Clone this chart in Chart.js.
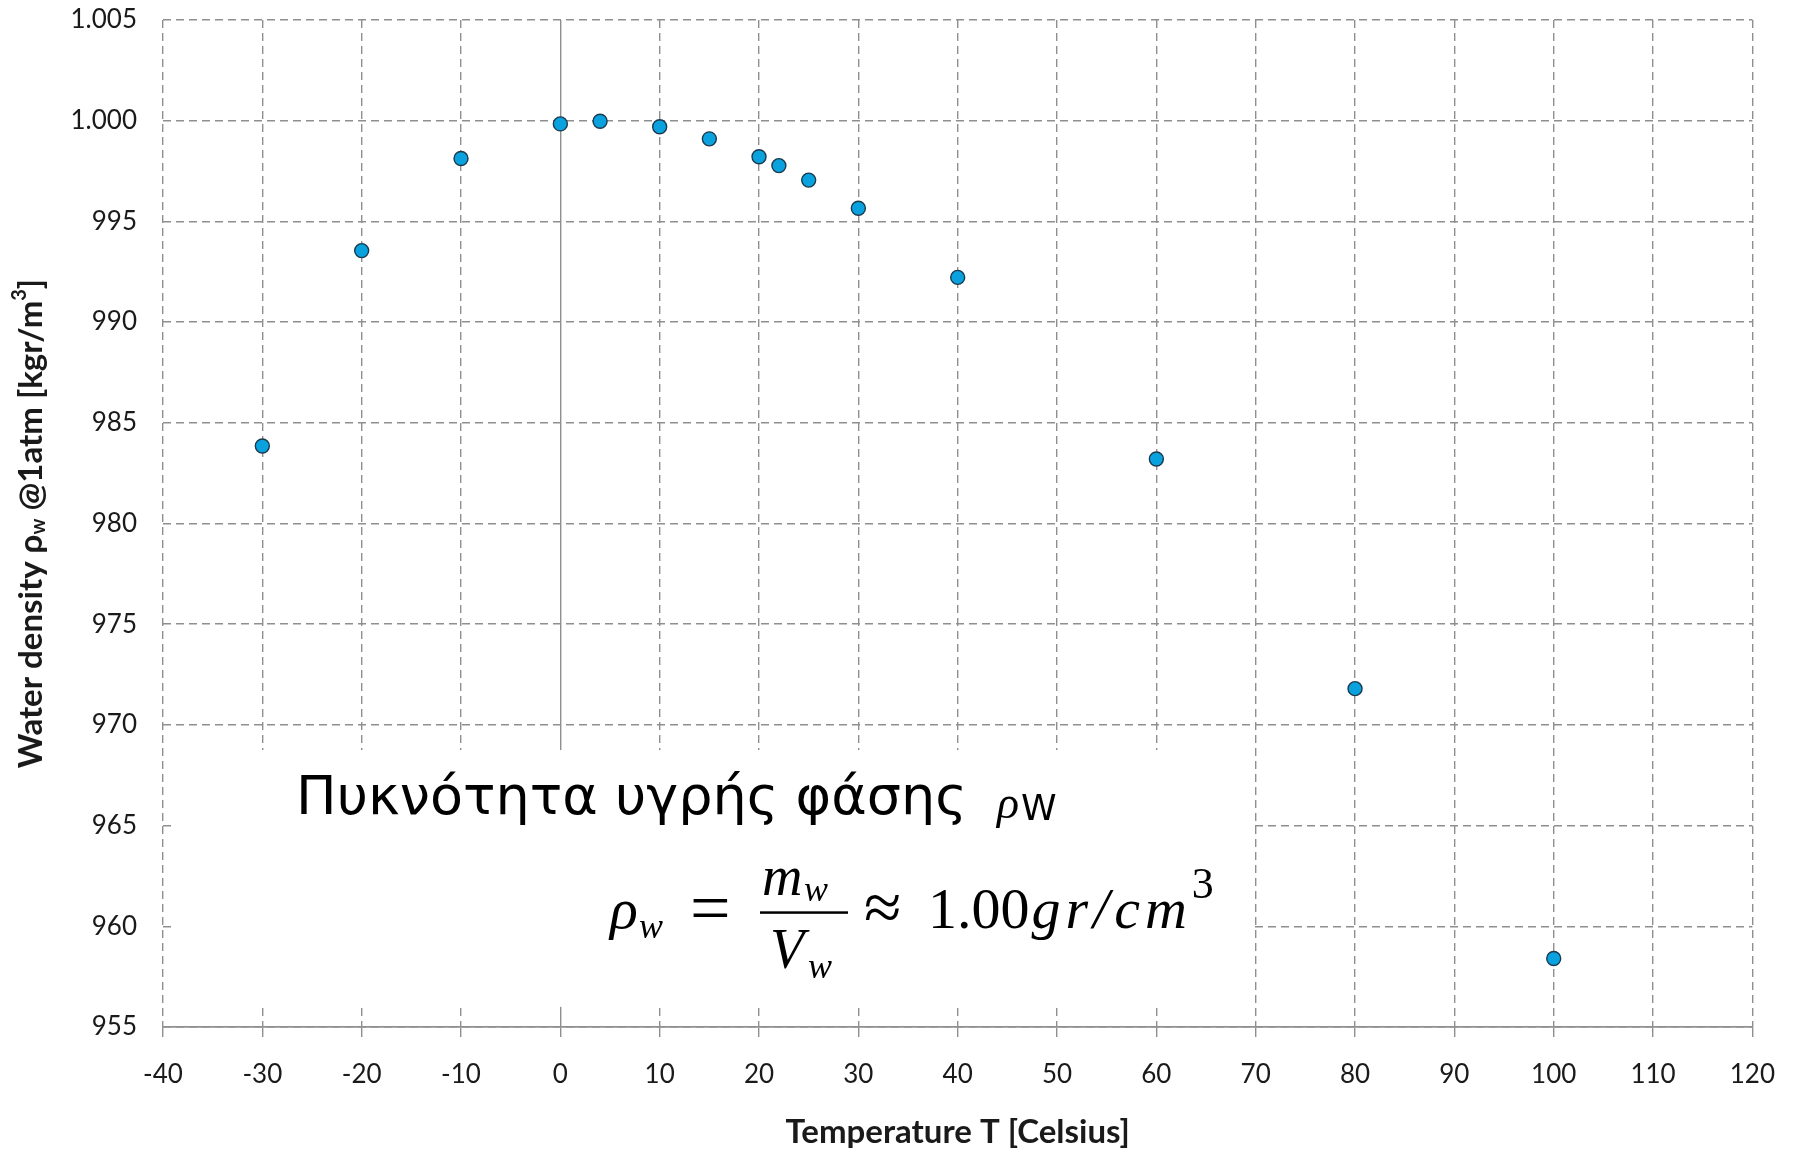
<!DOCTYPE html>
<html>
<head>
<meta charset="utf-8">
<script src="https://cdn.jsdelivr.net/npm/chart.js@4.4.1/dist/chart.umd.min.js"></script>
<style>
  html, body { margin: 0; padding: 0; background: #fff; }
  canvas { display: block; }
</style>
</head>
<body>
<canvas id="densityChart" width="1797" height="1152"></canvas>
<script>
// water density at 1 atm
const temperatures = [-30, -20, -10, 0, 4, 10, 15, 20, 22, 25, 30, 40, 60, 80, 100];
const densities = [983.85, 993.55, 998.12, 999.84, 999.97, 999.70, 999.10, 998.21, 997.77, 997.05, 995.65, 992.22, 983.20, 971.80, 958.40];

const xTitle = 'Temperature T [Celsius]';
const yTitleParts = [
    { text: 'Water density ρ' },
    { text: 'w', sub: true },
    { text: ' @1atm [kgr/m' },
    { text: '3', sup: true },
    { text: ']' }
];
const noteTitle = 'Πυκνότητα υγρής φάσης';

const gridGray = '#8f8f8f';
const labelFont = 'Lato';
const mathFont = '"Liberation Serif"';

// white note box with the greek caption and the formula
const notePlugin = {
    id: 'note',
    beforeDatasetsDraw(chart) {
        const { ctx, scales: { x, y } } = chart;
        const l = x.getPixelForValue(-38.7), r = x.getPixelForValue(69.6);
        const t = y.getPixelForValue(968.75), b = y.getPixelForValue(956.0);
        ctx.save();
        ctx.fillStyle = '#fff';
        ctx.fillRect(l, t, r - l, b - t);

        ctx.fillStyle = '#000';
        ctx.textBaseline = 'alphabetic';
        ctx.textAlign = 'left';

        // caption
        let cx = x.getPixelForValue(-26.6);
        const cy = y.getPixelForValue(965.6);
        ctx.font = '54px "DejaVu Sans"';
        ctx.fillText(noteTitle, cx, cy);
        cx += ctx.measureText(noteTitle).width + 30;
        ctx.font = 'italic 46px ' + mathFont;
        ctx.fillText('ρ', cx, cy + 4);
        cx += ctx.measureText('ρ').width + 2;
        ctx.font = '36px "DejaVu Sans"';
        ctx.fillText('W', cx, cy + 6);

        // formula
        const fx = x.getPixelForValue(5.0);
        const fy = y.getPixelForValue(959.9);
        ctx.font = 'italic 58px ' + mathFont;
        ctx.fillText('ρ', fx, fy);
        ctx.font = 'italic 36px ' + mathFont;
        ctx.fillText('w', fx + 29, fy + 10);
        ctx.font = '72px ' + mathFont;
        ctx.fillText('=', fx + 80, fy + 4);
        // fraction
        const barL = fx + 150, barR = fx + 238;
        ctx.fillRect(barL, fy - 17, barR - barL, 2.5);
        ctx.font = 'italic 56px ' + mathFont;
        ctx.fillText('m', barL + 2, fy - 33);
        ctx.font = 'italic 36px ' + mathFont;
        ctx.fillText('w', barL + 44, fy - 27);
        ctx.font = 'italic 56px ' + mathFont;
        ctx.fillText('V', barL + 10, fy + 40);
        ctx.font = 'italic 36px ' + mathFont;
        ctx.fillText('w', barL + 48, fy + 50);
        ctx.font = '68px ' + mathFont;
        ctx.fillText('≈', fx + 254, fy + 2);
        let ux = fx + 318;
        ctx.font = '58px ' + mathFont;
        ctx.fillText('1.00', ux, fy);
        ux += ctx.measureText('1.00').width + 2;
        ctx.font = 'italic 58px ' + mathFont;
        ctx.letterSpacing = '5px';
        ctx.fillText('gr/cm', ux, fy);
        ux += ctx.measureText('gr/cm').width;
        ctx.letterSpacing = '0px';
        ctx.font = '44px ' + mathFont;
        ctx.fillText('3', ux, fy - 30);
        ctx.restore();
    },
    afterDraw(chart) {
        // y title with sub/superscripts
        const { ctx, chartArea } = chart;
        ctx.save();
        ctx.translate(31, (chartArea.top + chartArea.bottom) / 2);
        ctx.rotate(-Math.PI / 2);
        ctx.fillStyle = '#1a1a1a';
        ctx.textBaseline = 'middle';
        const fontFor = p => (p.sub || p.sup) ? `bold 20px ${labelFont}` : `bold 33px ${labelFont}`;
        let total = 0;
        yTitleParts.forEach(p => { ctx.font = fontFor(p); total += ctx.measureText(p.text).width; });
        let px = -total / 2;
        yTitleParts.forEach(p => {
            ctx.font = fontFor(p);
            const dy = p.sub ? 8 : (p.sup ? -11 : 0);
            ctx.fillText(p.text, px, dy);
            px += ctx.measureText(p.text).width;
        });
        ctx.restore();
    }
};

const dashFor = c => (c.tick && c.tick.value === 0) ? [] : [8, 5];

new Chart(document.getElementById('densityChart'), {
    type: 'scatter',
    data: {
        datasets: [{
            data: temperatures.map((t, i) => ({ x: t, y: densities[i] })),
            backgroundColor: '#0aa2de',
            borderColor: '#1b3a4c',
            borderWidth: 1.4,
            pointRadius: 7,
            pointHoverRadius: 7
        }]
    },
    options: {
        responsive: false,
        devicePixelRatio: 1,
        animation: false,
        layout: { padding: { top: 20, right: 44, left: 0, bottom: 0 } },
        plugins: { legend: { display: false }, tooltip: { enabled: false } },
        scales: {
            x: {
                type: 'linear',
                min: -40,
                max: 120,
                afterFit(scale) { scale.height = 125; },
                ticks: { stepSize: 10, padding: 22, color: '#1a1a1a', font: { family: labelFont, size: 26 } },
                grid: { color: gridGray, lineWidth: 1.4, tickLength: 10, tickColor: gridGray, tickWidth: 1.4 },
                border: { display: true, color: gridGray, width: 1.8, dash: dashFor },
                title: {
                    display: true,
                    text: xTitle,
                    color: '#1a1a1a',
                    font: { family: labelFont, size: 33, weight: 'bold' },
                    padding: { top: 0, bottom: 0 }
                }
            },
            y: {
                type: 'linear',
                min: 955,
                max: 1005,
                afterFit(scale) {
                    scale.width = 163;
                    scale.paddingTop = 0;
                },
                ticks: {
                    stepSize: 5,
                    padding: 26,
                    color: '#1a1a1a',
                    font: { family: labelFont, size: 26 },
                    callback: v => String(v).replace(/\B(?=(\d{3})+(?!\d))/g, '.')
                },
                grid: { color: gridGray, lineWidth: 1.4, drawTicks: false },
                border: { display: false, dash: [8, 5] }
            }
        }
    },
    plugins: [notePlugin]
});
</script>
</body>
</html>
